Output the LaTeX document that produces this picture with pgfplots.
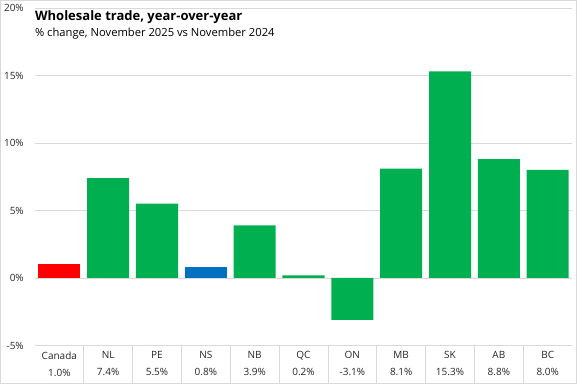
\documentclass[border=0pt]{standalone}
\usepackage{pgfplots}
\pgfplotsset{compat=1.18}
\usepackage{fontspec}
\setmainfont{Open Sans}
\definecolor{bargreen}{HTML}{00B050}
\definecolor{barred}{HTML}{FF0000}
\definecolor{barblue}{HTML}{0070C0}
\definecolor{gridgray}{HTML}{D9D9D9}
\begin{document}
\begin{tikzpicture}[x=1pt,y=1pt]
\draw[gridgray, line width=0.8pt] (0.5,0.5) rectangle (576.5,383.5);
\begin{axis}[
  at={(35pt,38.5pt)}, anchor=south west,
  scale only axis, width=537pt, height=337.5pt,
  xmin=-0.5, xmax=10.5, ymin=-5, ymax=20,
  ytick={-5,0,5,10,15,20},
  yticklabel={\pgfmathprintnumber{\tick}\%},
  yticklabel style={anchor=east, inner sep=0pt, xshift=-11pt, font=\fontsize{10}{11}\selectfont, text=black!85},
  /pgf/number format/assume math mode=true,
  xtick={0,...,10},
  xticklabels={{Canada\\1.0\%},{NL\\7.4\%},{PE\\5.5\%},{NS\\0.8\%},{NB\\3.9\%},{QC\\0.2\%},{ON\\-3.1\%},{MB\\8.1\%},{SK\\15.3\%},{AB\\8.8\%},{BC\\8.0\%}},
  xticklabel style={anchor=north, align=center, inner sep=0pt, yshift=-6pt, font=\fontsize{10}{17}\selectfont, text=black!85},
  axis line style={draw=none},
  major tick length=0pt,
  ymajorgrids, grid style={gridgray, line width=0.8pt},
  clip=false,
]
\addplot[ybar, bar width=42pt, bar shift=0pt, fill=barred, draw=none] coordinates {(0,1.0)};
\addplot[ybar, bar width=42pt, bar shift=0pt, fill=barblue, draw=none] coordinates {(3,0.8)};
\addplot[ybar, bar width=42pt, bar shift=0pt, fill=bargreen, draw=none] coordinates {(1,7.4) (2,5.5) (4,3.9) (5,0.2) (6,-3.1) (7,8.1) (8,15.3) (9,8.8) (10,8.0)};
\end{axis}
\foreach \k in {1,...,10} {
  \draw[gridgray, line width=0.8pt] ({35+537/11*\k},38.5) -- ({35+537/11*\k},0.5);
}
\node[anchor=base west, inner sep=0pt, font=\fontsize{13}{15}\selectfont\bfseries] at (35,363.3) {Wholesale trade, year-over-year};
\node[anchor=base west, inner sep=0pt, font=\fontsize{11.2}{13}\selectfont] at (35,347.3) {\% change, November 2025 vs November 2024};
\end{tikzpicture}
\end{document}
